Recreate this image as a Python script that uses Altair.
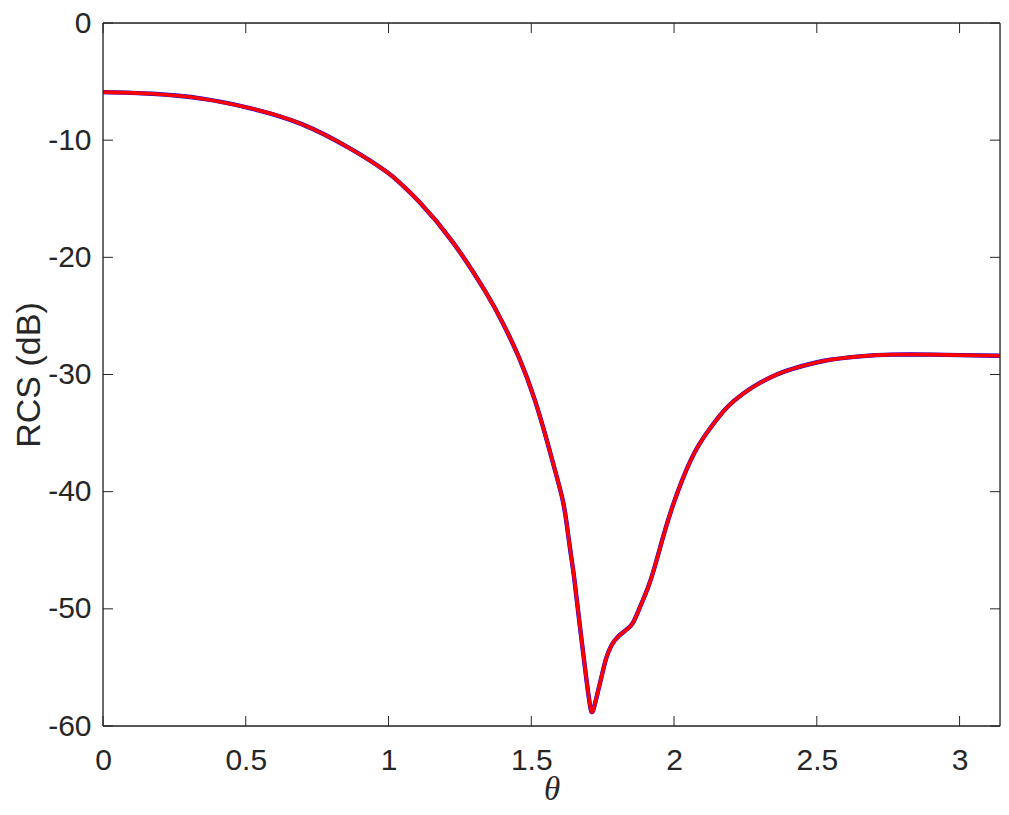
import altair as alt
import pandas as pd

# Data
theta = [0.0, 0.173, 0.347, 0.52, 0.694, 0.868, 0.993, 1.042, 1.109, 1.225,
         1.341, 1.4, 1.456, 1.514, 1.561, 1.58, 1.607, 1.622, 1.636, 1.65,
         1.665, 1.692, 1.706, 1.715, 1.729, 1.746, 1.764, 1.792, 1.827, 1.856,
         1.885, 1.92, 1.966, 2.013, 2.071, 2.129, 2.186, 2.244, 2.302, 2.36,
         2.418, 2.522, 2.65, 2.766, 2.9, 3.0, 3.1416]
rcs_db = [-5.9, -6.04, -6.46, -7.3, -8.61, -10.75, -12.7, -13.7, -15.3, -18.7,
          -23.0, -25.6, -28.5, -32.3, -36.2, -37.9, -40.4, -42.4, -44.9, -47.3,
          -50.4, -55.8, -58.3, -58.76, -57.5, -55.8, -54.1, -52.7, -51.9, -51.2,
          -49.6, -47.4, -43.5, -40.0, -36.7, -34.5, -32.8, -31.6, -30.7, -30.0,
          -29.5, -28.85, -28.45, -28.3, -28.3, -28.35, -28.4]

x_ticks = [0, 0.5, 1, 1.5, 2, 2.5, 3]
y_ticks = [-60, -50, -40, -30, -20, -10, 0]

W, H = 897, 703
AX = "#262626"
SANS = "Liberation Sans"

df = pd.DataFrame({"theta": theta, "rcs": rcs_db})
xt = pd.DataFrame({"t": x_ticks})
yt = pd.DataFrame({"t": y_ticks})

xscale = alt.Scale(domain=[0, 3.1416], nice=False, zero=False)
yscale = alt.Scale(domain=[-60, 0], nice=False, zero=False)

xaxis = alt.Axis(values=x_ticks, grid=False, ticks=False, tickSize=0, domain=False,
                 labelFont=SANS, labelFontSize=30, labelColor=AX, labelPadding=19,
                 labelFlush=False, labelExpr="datum.value",
                 title="θ", titleFont="Liberation Serif", titleFontStyle="italic",
                 titleFontWeight="normal", titleFontSize=33, titleColor=AX,
                 titleBaseline="alphabetic", titleY=73, titleX=W / 2, titleAlign="center")
yaxis = alt.Axis(values=y_ticks, grid=False, ticks=False, tickSize=0, domain=False,
                 labelFont=SANS, labelFontSize=30, labelColor=AX, labelPadding=12,
                 labelFlush=False, labelExpr="datum.value",
                 title="RCS (dB)", titleFont=SANS, titleFontWeight="normal",
                 titleFontSize=34, titleColor=AX, titleAngle=270,
                 titleBaseline="alphabetic", titleAlign="center",
                 titleX=-64, titleY=H / 2)

base = alt.Chart(df)
blue = base.mark_line(color="#0000ff", strokeWidth=4.4, interpolate="natural").encode(
    x=alt.X("theta:Q", scale=xscale, axis=xaxis),
    y=alt.Y("rcs:Q", scale=yscale, axis=yaxis),
)
red = base.mark_line(color="#ff0000", strokeWidth=3.6, interpolate="natural").encode(
    x=alt.X("theta:Q", scale=xscale),
    y=alt.Y("rcs:Q", scale=yscale),
)

tick_len = 10
rule = dict(color=AX, strokeWidth=1)
xt_bottom = alt.Chart(xt).mark_rule(**rule).encode(
    x=alt.X("t:Q", scale=xscale), y=alt.value(H), y2=alt.value(H - tick_len))
xt_top = alt.Chart(xt).mark_rule(**rule).encode(
    x=alt.X("t:Q", scale=xscale), y=alt.value(0), y2=alt.value(tick_len))
yt_left = alt.Chart(yt).mark_rule(**rule).encode(
    y=alt.Y("t:Q", scale=yscale), x=alt.value(0), x2=alt.value(tick_len))
yt_right = alt.Chart(yt).mark_rule(**rule).encode(
    y=alt.Y("t:Q", scale=yscale), x=alt.value(W), x2=alt.value(W - tick_len))

frame_df = pd.DataFrame({"side": ["box"]})
frame_rule = dict(color=AX, strokeWidth=1.3)
f_bottom = alt.Chart(frame_df).mark_rule(**frame_rule).encode(
    x=alt.value(0), x2=alt.value(W), y=alt.value(H))
f_top = alt.Chart(frame_df).mark_rule(**frame_rule).encode(
    x=alt.value(0), x2=alt.value(W), y=alt.value(0))
f_left = alt.Chart(frame_df).mark_rule(**frame_rule).encode(
    y=alt.value(0), y2=alt.value(H), x=alt.value(0))
f_right = alt.Chart(frame_df).mark_rule(**frame_rule).encode(
    y=alt.value(0), y2=alt.value(H), x=alt.value(W))

chart = alt.layer(blue, red, xt_bottom, xt_top, yt_left, yt_right,
                  f_bottom, f_top, f_left, f_right).properties(
    width=W, height=H,
    autosize=alt.AutoSizeParams(type="none"),
    padding={"left": 95, "top": 15, "right": 1, "bottom": 81},
).configure_view(strokeWidth=0).configure(background="white")

chart.save("out.html", embed_options={"renderer": "svg", "actions": False})
